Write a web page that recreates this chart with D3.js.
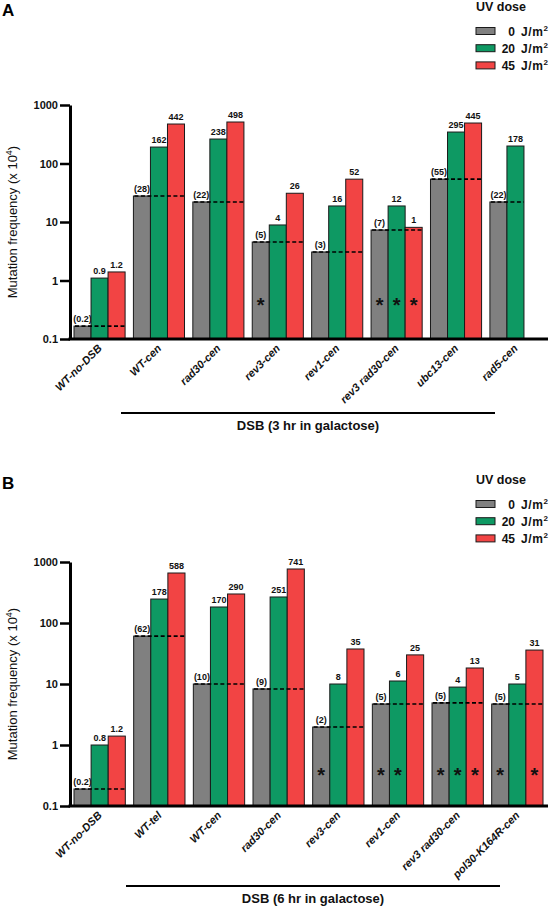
<!DOCTYPE html>
<html><head><meta charset="utf-8">
<script src="https://cdn.jsdelivr.net/npm/d3@7"></script>
<style>body{margin:0;background:#fff} svg{display:block;font-family:"Liberation Sans",Arial,sans-serif}</style>
</head><body><svg id="chart" width="550" height="906"></svg>
<script>
// ---- shared ----
const doses = ["0", "20", "45"];
const doseColors = ["#808080", "#0e9963", "#f24444"];
const yTicks = [0.1, 1, 10, 100, 1000];
const yTickLabels = ["0.1", "1", "10", "100", "1000"];

// ---- panel A ----
const catsA = ["WT-no-DSB", "WT-cen", "rad30-cen", "rev3-cen", "rev1-cen", "rev3 rad30-cen", "ubc13-cen", "rad5-cen"];
const valsA0  = [0.166, 27.8, 22, 4.55, 3.07, 7.3, 54, 22];
const valsA20 = [1.1, 191, 262, 8.9, 18.8, 18.8, 345, 199];
const valsA45 = [1.4, 473, 512, 31, 54, 8.1, 492, null];
const labA0  = ["(0.2)", "(28)", "(22)", "(5)", "(3)", "(7)", "(55)", "(22)"];
const labA20 = ["0.9", "162", "238", "4", "16", "12", "295", "178"];
const labA45 = ["1.2", "442", "498", "26", "52", "1", "445", ""];
const starsA0  = [0, 0, 0, 1, 0, 1, 0, 0];
const starsA20 = [0, 0, 0, 0, 0, 1, 0, 0];
const starsA45 = [0, 0, 0, 0, 0, 1, 0, 0];

// ---- panel B ----
const catsB = ["WT-no-DSB", "WT-tel", "WT-cen", "rad30-cen", "rev3-cen", "rev1-cen", "rev3 rad30-cen", "pol30-K164R-cen"];
const valsB0  = [0.19, 61, 10, 8.3, 1.97, 4.7, 4.9, 4.7];
const valsB20 = [1.0, 247, 183, 267, 10, 11.2, 8.9, 10];
const valsB45 = [1.4, 660, 299, 768, 37.5, 30, 18.3, 36];
const labB0  = ["(0.2)", "(62)", "(10)", "(9)", "(2)", "(5)", "(5)", "(5)"];
const labB20 = ["0.8", "178", "170", "251", "8", "6", "4", "5"];
const labB45 = ["1.2", "588", "290", "741", "35", "25", "13", "31"];
const starsB0  = [0, 0, 0, 0, 1, 1, 1, 1];
const starsB20 = [0, 0, 0, 0, 0, 1, 1, 0];
const starsB45 = [0, 0, 0, 0, 0, 0, 1, 1];

const svg = d3.select("#chart");

function panel(o) {
  const g = svg.append("g");
  const y = d3.scaleLog().domain([0.1, 1000]).range([o.yBottom, o.yTop]);
  const x = d3.scaleBand().domain(o.cats).range([74, o.xEnd]).paddingInner(0.14).paddingOuter(0);
  const xs = d3.scaleBand().domain(doses).range([0, x.bandwidth()]);
  const base = y(0.1);

  // panel letter
  g.append("text").attr("x", 2).attr("y", o.titleY).attr("font-size", 17).attr("font-weight", "bold").text(o.title);

  // bars
  o.cats.forEach((c, i) => {
    doses.forEach((d, j) => {
      const v = o.vals[j][i];
      if (v == null) return;
      const bx = x(c) + xs(d);
      g.append("rect").attr("x", bx).attr("y", y(v)).attr("width", xs.bandwidth()).attr("height", base - y(v))
        .attr("fill", doseColors[j]).attr("stroke", "#1a1a1a").attr("stroke-width", 1);
      const lab = o.labs[j][i];
      if (lab) {
        g.append("text").attr("x", bx + xs.bandwidth() / 2).attr("y", y(v) - 4)
          .attr("text-anchor", "middle").attr("font-size", 9).attr("font-weight", "bold").attr("fill", "#111").text(lab);
      }
      if (o.stars[j][i]) {
        g.append("text").attr("x", bx + xs.bandwidth() / 2).attr("y", o.starY)
          .attr("text-anchor", "middle").attr("font-size", 20).attr("font-weight", "bold").attr("fill", "#111").text("*");
      }
    });
    // dashed reference line at 0 J/m2 level
    const nb = o.vals.filter(a => a[i] != null).length;
    const lastDose = doses[nb - 1];
    g.append("line").attr("x1", x(c) + 1).attr("x2", x(c) + xs(lastDose) + xs.bandwidth())
      .attr("y1", y(o.vals[0][i])).attr("y2", y(o.vals[0][i]))
      .attr("stroke", "#000").attr("stroke-width", 1.6).attr("stroke-dasharray", "4,2.5");
  });

  // y axis
  const ax = g.append("g").attr("transform", "translate(70,0)")
    .call(d3.axisLeft(y).tickValues(yTicks).tickFormat((d, i) => yTickLabels[i]).tickSize(10).tickSizeOuter(0).tickPadding(2));
  ax.select(".domain").attr("stroke", "#000").attr("stroke-width", 3);
  ax.selectAll(".tick line").attr("stroke", "#000").attr("stroke-width", 2.5);
  ax.selectAll(".tick text").attr("font-size", 11).attr("font-weight", "bold").attr("fill", "#111")
    .attr("font-family", "Liberation Sans, Arial, sans-serif");

  // x baseline
  g.append("line").attr("x1", 68.5).attr("x2", 548).attr("y1", base).attr("y2", base).attr("stroke", "#000").attr("stroke-width", 3);

  // y title
  const yt = g.append("text").attr("transform", `translate(17,${(o.yTop + o.yBottom) / 2}) rotate(-90)`)
    .attr("text-anchor", "middle").attr("font-size", 13).attr("fill", "#111");
  yt.append("tspan").text("Mutation frequency (x 10");
  yt.append("tspan").attr("dy", -5).attr("font-size", 9).text("4");
  yt.append("tspan").attr("dy", 5).text(")");

  // x labels
  o.cats.forEach(c => {
    g.append("text").attr("transform", `translate(${x(c) + x.bandwidth() / 2 + 3},${base + 10}) rotate(-45)`)
      .attr("text-anchor", "end").attr("font-size", 11).attr("font-weight", "bold").attr("font-style", "italic")
      .attr("fill", "#111").text(c);
  });

  // DSB bracket
  g.append("line").attr("x1", o.dsbX1).attr("x2", o.dsbX2).attr("y1", o.dsbY).attr("y2", o.dsbY).attr("stroke", "#000").attr("stroke-width", 2);
  g.append("text").attr("x", (o.dsbX1 + o.dsbX2) / 2).attr("y", o.dsbLabelY).attr("text-anchor", "middle")
    .attr("font-size", 13).attr("font-weight", "bold").attr("fill", "#111").text(o.dsbLabel);

  // legend
  g.append("text").attr("x", 476).attr("y", o.legY).attr("font-size", 12.5).attr("font-weight", "bold").attr("fill", "#111").text("UV dose");
  doses.forEach((d, j) => {
    const cy = o.legY + 20 + j * 17.2;
    g.append("rect").attr("x", 476).attr("y", cy - 3.5).attr("width", 19).attr("height", 7)
      .attr("fill", doseColors[j]).attr("stroke", "#1a1a1a").attr("stroke-width", 1);
    g.append("text").attr("x", 515).attr("y", cy + 4.5).attr("text-anchor", "end").attr("font-size", 12).attr("font-weight", "bold").attr("fill", "#111").text(d);
    const t = g.append("text").attr("x", 521).attr("y", cy + 4.5).attr("font-size", 12).attr("font-weight", "bold").attr("letter-spacing", 0.6).attr("fill", "#111");
    t.append("tspan").text("J/m");
    t.append("tspan").attr("dy", -5).attr("font-size", 8).text("2");
  });
}

panel({
  title: "A", titleY: 16, cats: catsA,
  vals: [valsA0, valsA20, valsA45], labs: [labA0, labA20, labA45], stars: [starsA0, starsA20, starsA45],
  yTop: 105, yBottom: 339, xEnd: 541, starY: 312,
  dsbX1: 121, dsbX2: 495, dsbY: 413, dsbLabelY: 430, dsbLabel: "DSB (3 hr in galactose)",
  legY: 11
});
panel({
  title: "B", titleY: 489, cats: catsB,
  vals: [valsB0, valsB20, valsB45], labs: [labB0, labB20, labB45], stars: [starsB0, starsB20, starsB45],
  yTop: 562, yBottom: 806, xEnd: 543, starY: 782,
  dsbX1: 126, dsbX2: 500, dsbY: 886, dsbLabelY: 903, dsbLabel: "DSB (6 hr in galactose)",
  legY: 484
});
</script></body></html>
